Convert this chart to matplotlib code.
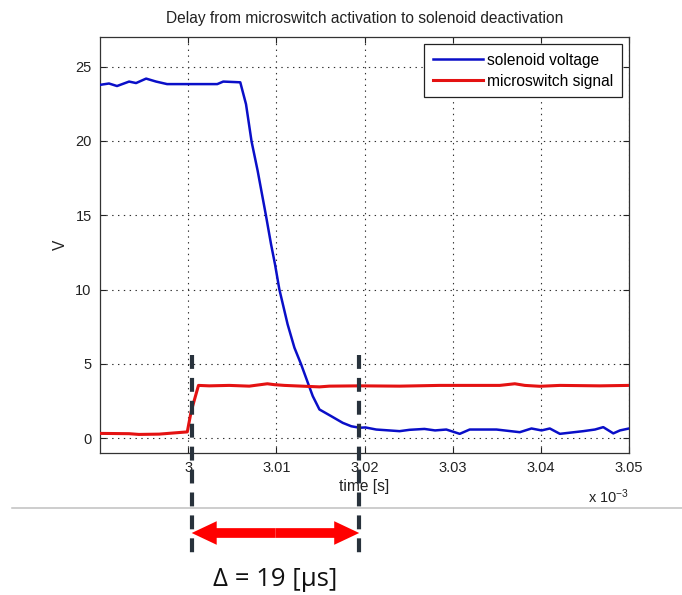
import matplotlib
matplotlib.use("Agg")
import matplotlib.pyplot as plt
import matplotlib.transforms as mtransforms
from matplotlib.patches import FancyArrowPatch
from matplotlib.lines import Line2D

plt.rcParams['font.family'] = ['Liberation Sans', 'DejaVu Sans']
plt.rcParams['mathtext.default'] = 'regular'
plt.rcParams['lines.scale_dashes'] = False

# Solenoid voltage trace (time in ms, volts)
solenoid_t = [2.9899, 2.99102, 2.99193, 2.99330, 2.99409, 2.99523, 2.99636, 2.99761,
              3.00330, 3.00398, 3.00591, 3.00656, 3.00719, 3.00788, 3.00883, 3.00940,
              3.00985, 3.01034, 3.01128, 3.01205, 3.01281, 3.01364, 3.01413, 3.01489,
              3.01622, 3.01753, 3.01850, 3.01943, 3.02011, 3.02133,
              3.02398, 3.02511, 3.02680, 3.02800, 3.02928, 3.03080, 3.03193, 3.03497,
              3.03761, 3.03894, 3.04008, 3.04102, 3.04216, 3.04481, 3.04614, 3.04708,
              3.04822, 3.04898, 3.05000]
solenoid_v = [23.77, 23.87, 23.70, 24.00, 23.90, 24.20, 24.00, 23.83,
              23.83, 24.00, 23.95, 22.48, 19.97, 18.00, 14.96, 13.05,
              11.70, 10.02, 7.66, 6.09, 4.97, 3.62, 2.83, 1.93,
              1.48, 1.03, 0.80, 0.70, 0.72, 0.58,
              0.47, 0.56, 0.62, 0.52, 0.58, 0.29, 0.58, 0.58,
              0.40, 0.65, 0.52, 0.65, 0.29, 0.47, 0.58, 0.74,
              0.32, 0.52, 0.65]

# Microswitch signal trace (time in ms, volts)
switch_t = [2.9899, 2.9933, 2.9944, 2.9967, 2.9986, 2.9999, 3.00034, 3.00117,
            3.00239, 3.00466, 3.00693, 3.00898, 3.00977, 3.01091, 3.01489, 3.01602,
            3.01943, 3.02398, 3.02852, 3.03534, 3.03705, 3.03818, 3.03989, 3.04216,
            3.04670, 3.05000]
switch_v = [0.32, 0.30, 0.25, 0.27, 0.36, 0.42, 1.80, 3.55,
            3.52, 3.55, 3.50, 3.66, 3.60, 3.55, 3.45, 3.50,
            3.52, 3.50, 3.55, 3.55, 3.66, 3.55, 3.49, 3.55,
            3.52, 3.55]

x_ticks = [3.00, 3.01, 3.02, 3.03, 3.04, 3.05]
x_tick_labels = ['3', '3.01', '3.02', '3.03', '3.04', '3.05']
y_ticks = [0, 5, 10, 15, 20, 25]

# Measured delay between switch activation and solenoid release
delay_start = 3.0004   # ms
delay_us = 19
delay_end = delay_start + delay_us / 1000.0

fig = plt.figure(figsize=(6.82, 5.95), dpi=100)
ax = fig.add_axes([100 / 682, 1 - 453 / 595, 529 / 682, 416 / 595])

ax.plot(solenoid_t, solenoid_v, color='#0a0fc8', lw=1.8, label='solenoid voltage', zorder=3)
ax.plot(switch_t, switch_v, color='#e41212', lw=2.2, label='microswitch signal', zorder=3)

ax.set_xlim(2.99, 3.05)
ax.set_ylim(-1, 27)
ax.set_xticks(x_ticks)
ax.set_xticklabels(x_tick_labels)
ax.set_yticks(y_ticks)
ax.grid(True, color='#303030', linestyle=(0, (1, 3.2)), linewidth=0.8)
ax.tick_params(direction='in', length=4, width=0.8, top=True, right=True,
               labelsize=10.5, colors='#222222', pad=6)
for sp in ax.spines.values():
    sp.set_color('#333333')
    sp.set_linewidth(0.9)

ax.set_title('Delay from microswitch activation to solenoid deactivation',
             fontsize=11.2, color='#222222', pad=10)
ax.set_xlabel('time [s]', fontsize=11.2, color='#222222', labelpad=3)
ax.set_ylabel('V', fontsize=11.2, color='#222222', labelpad=5)
ax.text(1.0, -0.105, 'x 10$^{-3}$', transform=ax.transAxes, ha='right', va='center',
        fontsize=10.5, color='#222222')

leg = ax.legend(loc='upper right', fontsize=11.2, frameon=True, fancybox=False,
                framealpha=1, edgecolor='#222222', borderaxespad=0.45,
                handlelength=3.2, handletextpad=0.3, labelspacing=0.4, borderpad=0.55)
leg.get_frame().set_linewidth(0.9)

# Annotation below the axes: dashed markers, double arrow and delay label
blend = mtransforms.blended_transform_factory(ax.transData, fig.transFigure)
y_top = 1 - 355 / 595
y_bot = 1 - 556 / 595
for xv in (delay_start, delay_end):
    fig.add_artist(Line2D([xv, xv], [y_top, y_bot], transform=blend, color='#28323c',
                          lw=3.0, linestyle=(0, (10, 6.5)), zorder=5))

fig.add_artist(Line2D([12 / 682, 1.0], [1 - 508 / 595, 1 - 508 / 595],
                      transform=fig.transFigure, color='#c0c0c0', lw=1.1))

y_arrow = 1 - 533 / 595
mid = (delay_start + delay_end) / 2
for end in (delay_start, delay_end):
    fig.add_artist(FancyArrowPatch((mid, y_arrow), (end, y_arrow), transform=blend,
                                   arrowstyle='simple,head_length=18,head_width=17,tail_width=7',
                                   mutation_scale=1, color='#ff0000', lw=0,
                                   shrinkA=0, shrinkB=0, zorder=6))

fig.text(mid, 1 - 580 / 595, 'Δ = %d [µs]' % delay_us, transform=blend,
         ha='center', va='center', fontsize=18.5, family=['Open Sans', 'DejaVu Sans'],
         color='#111111')

fig.savefig('out.png', dpi=100)
